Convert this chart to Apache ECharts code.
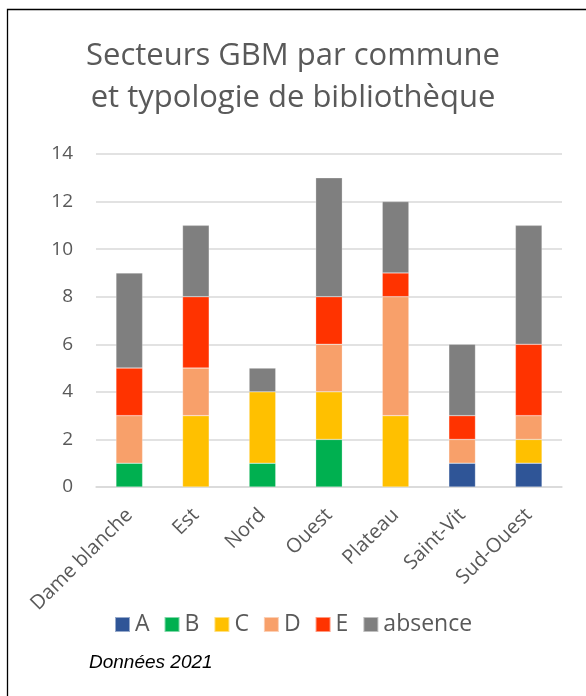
<!DOCTYPE html>
<html>
<head>
<meta charset="utf-8">
<script src="https://cdn.jsdelivr.net/npm/echarts@6/dist/echarts.min.js"></script>
<style>
  html, body { margin: 0; padding: 0; background: #fff; }
  #chart { width: 586px; height: 696px; }
</style>
</head>
<body>
<div id="chart"></div>
<script>
const communes = ['Dame blanche', 'Est', 'Nord', 'Ouest', 'Plateau', 'Saint-Vit', 'Sud-Ouest']
const typoA = [0, 0, 0, 0, 0, 1, 1]
const typoB = [1, 0, 1, 2, 0, 0, 0]
const typoC = [0, 3, 3, 2, 3, 0, 1]
const typoD = [2, 2, 0, 2, 5, 1, 1]
const typoE = [2, 3, 0, 2, 1, 1, 3]
const absence = [4, 3, 1, 5, 3, 3, 5]

const seriesDefs = [
  { name: 'A', data: typoA, color: '#2F5597' },
  { name: 'B', data: typoB, color: '#00B050' },
  { name: 'C', data: typoC, color: '#FFC000' },
  { name: 'D', data: typoD, color: '#F8A06A' },
  { name: 'E', data: typoE, color: '#FF3300' },
  { name: 'absence', data: absence, color: '#7F7F7F' }
]

const font = '"Open Sans", "Noto Sans", sans-serif'
const grey = '#595959'

const chart = echarts.init(document.getElementById('chart'))

chart.setOption({
  animation: false,
  title: {
    text: 'Secteurs GBM par commune\net typologie de bibliothèque',
    left: 'center',
    top: 30,
    textStyle: { fontFamily: font, fontSize: 31, fontWeight: 'normal', color: grey, lineHeight: 42 }
  },
  legend: {
    left: 109,
    top: 608,
    icon: 'rect',
    itemWidth: 15,
    itemHeight: 15,
    itemGap: 14,
    textStyle: { fontFamily: font, fontSize: 23, color: grey },
    data: seriesDefs.map(s => s.name)
  },
  grid: { left: 96, right: 24, top: 154, bottom: 209 },
  xAxis: {
    type: 'category',
    data: communes,
    axisLine: { lineStyle: { color: '#d9d9d9', width: 1.5 } },
    axisTick: { show: false },
    axisLabel: { rotate: 45, fontFamily: font, fontSize: 20, color: grey, margin: 25, interval: 0 }
  },
  yAxis: {
    type: 'value',
    min: 0,
    max: 14,
    interval: 2,
    axisLine: { show: false },
    axisTick: { show: false },
    axisLabel: { fontFamily: font, fontSize: 19, color: grey, margin: 23 },
    splitLine: { lineStyle: { color: '#d9d9d9', width: 1.5 } }
  },
  series: seriesDefs.map(s => ({
    name: s.name,
    type: 'bar',
    stack: 'total',
    barWidth: '40%',
    data: s.data.map(v => (v === 0 ? null : v)),
    itemStyle: { color: s.color, borderColor: 'rgba(255,255,255,0.5)', borderWidth: 0.5 }
  })),
  graphic: [
    {
      type: 'rect',
      shape: { x: 7.5, y: 9.5, width: 620, height: 720 },
      style: { fill: 'none', stroke: '#000', lineWidth: 1.3 }
    },
    {
      type: 'text',
      left: 89,
      top: 653,
      style: { text: 'Données 2021', font: 'italic 19px "Liberation Sans", Arial, sans-serif', fill: '#000' }
    }
  ]
})
</script>
</body>
</html>
